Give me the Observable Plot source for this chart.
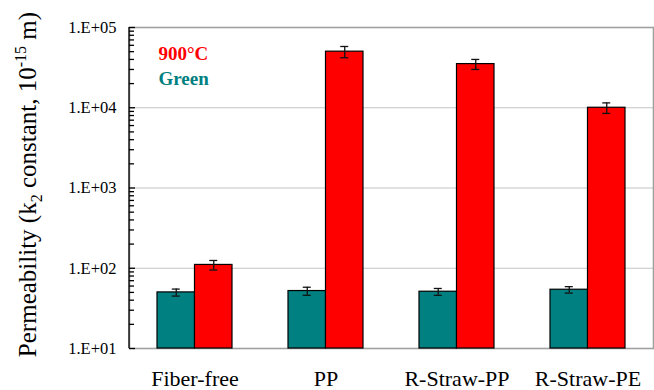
<!DOCTYPE html>
<html>
<head>
<meta charset="utf-8">
<script src="https://cdn.jsdelivr.net/npm/d3@7"></script>
<script src="https://cdn.jsdelivr.net/npm/@observablehq/plot@0.6"></script>
<style>
  html, body { margin: 0; padding: 0; background: #fff; }
  #chart svg { display: block; }
</style>
</head>
<body>
<div id="chart"></div>
<script>
const categories = ["Fiber-free", "PP", "R-Straw-PP", "R-Straw-PE"];
const greenValues = [50, 52, 51, 54];
const greenErrors = [5, 6, 5, 5];
const firedValues = [110, 50000, 35000, 10000];
const firedErrors = [15, 8000, 5000, 1500];
const yTickValues = [1e1, 1e2, 1e3, 1e4, 1e5];
const seriesLabels = ["900°C", "Green"];
const seriesColors = ["#ff0000", "#008080"];

const W = 654, H = 390;
const mL = 129, mR = 1, mT = 27, mB = 42;
const plotW = W - mL - mR;
const band = plotW / categories.length;
const barW = 37.5;
const outer = (band - 2 * barW) / 2;
const capHalf = 4;
const serif = "Liberation Serif, Times New Roman, serif";

const green = categories.map((c, i) => ({cat: c, value: greenValues[i], err: greenErrors[i]}));
const fired = categories.map((c, i) => ({cat: c, value: firedValues[i], err: firedErrors[i]}));
const yMin = yTickValues[0];
const minorTicks = [];
for (let k = 0; k < yTickValues.length - 1; k++)
  for (let m = 2; m <= 9; m++) minorTicks.push(m * yTickValues[k]);

const fmt = d => "1.E+" + String(Math.round(Math.log10(d))).padStart(2, "0");

function errMarks(rows, offset) {
  const capL = outer + offset + barW / 2 - capHalf;
  const capR = band - capL - 2 * capHalf;
  return [
    Plot.ruleX(rows, {x: "cat", y1: d => d.value - d.err, y2: d => d.value + d.err,
      dx: outer + offset + barW / 2 - band / 2, stroke: "#111", strokeWidth: 1.3}),
    Plot.tickY(rows, {x: "cat", y: d => d.value - d.err, insetLeft: capL, insetRight: capR,
      stroke: "#111", strokeWidth: 1.3}),
    Plot.tickY(rows, {x: "cat", y: d => d.value + d.err, insetLeft: capL, insetRight: capR,
      stroke: "#111", strokeWidth: 1.3})
  ];
}

const chart = Plot.plot({
  width: W, height: H,
  marginLeft: mL, marginRight: mR, marginTop: mT, marginBottom: mB,
  style: {fontFamily: serif, background: "#fff", color: "#000"},
  x: {type: "band", domain: categories, padding: 0, label: null},
  y: {type: "log", domain: [yTickValues[0], yTickValues[yTickValues.length - 1]], label: null},
  marks: [
    Plot.ruleY(yTickValues, {stroke: "#c4c4c4", strokeWidth: 1.2}),
    Plot.frame({stroke: "#a0a0a0", strokeWidth: 1.6}),
    Plot.barY(green, {x: "cat", y1: yMin, y2: "value", fill: seriesColors[1], stroke: "#000", strokeWidth: 1.2,
      insetLeft: outer, insetRight: outer + barW}),
    Plot.barY(fired, {x: "cat", y1: yMin, y2: "value", fill: seriesColors[0], stroke: "#000", strokeWidth: 1.2,
      insetLeft: outer + barW, insetRight: outer}),
    ...errMarks(green, 0),
    ...errMarks(fired, barW),
    // inward tick marks along the left axis
    Plot.ruleY(yTickValues, {stroke: "#000", strokeWidth: 1.3, insetRight: plotW - 6}),
    Plot.ruleY(minorTicks, {stroke: "#000", strokeWidth: 1.3, insetRight: plotW - 5}),
    Plot.ruleX([0], {frameAnchor: "left", stroke: "#000", strokeWidth: 1.3}),
    Plot.axisY({ticks: yTickValues, tickFormat: fmt, tickSize: 0, tickPadding: 13, fontSize: 16.5}),
    Plot.axisX({tickSize: 0, tickPadding: 22, fontSize: 22}),
    Plot.text([seriesLabels[0]], {frameAnchor: "top-left", dx: 29, dy: 19, text: d => d,
      fill: seriesColors[0], fontWeight: "bold", fontSize: 19, textAnchor: "start"}),
    Plot.text([seriesLabels[1]], {frameAnchor: "top-left", dx: 29, dy: 44, text: d => d,
      fill: seriesColors[1], fontWeight: "bold", fontSize: 19, textAnchor: "start"})
  ].filter(Boolean)
});

document.getElementById("chart").appendChild(chart);

const svg = d3.select(chart);
svg.attr("font-family", serif);
svg.selectAll("text").attr("font-family", serif);

svg.append("line")
  .attr("x1", mL).attr("x2", mL).attr("y1", mT).attr("y2", H - mB)
  .attr("stroke", "#000").attr("stroke-width", 1.3);

const t = svg.append("text")
  .attr("transform", `translate(36,${(mT + H - mB) / 2 - 3}) rotate(-90)`)
  .attr("text-anchor", "middle")
  .attr("font-family", serif)
  .attr("font-size", 25)
  .attr("fill", "#000");
t.append("tspan").text("Permeability (k");
t.append("tspan").attr("font-size", 16).attr("dy", 6).text("2");
t.append("tspan").attr("dy", -6).text(" constant, 10");
t.append("tspan").attr("font-size", 16).attr("dy", -10).text("-15");
t.append("tspan").attr("dy", 10).text(" m)");
</script>
</body>
</html>
